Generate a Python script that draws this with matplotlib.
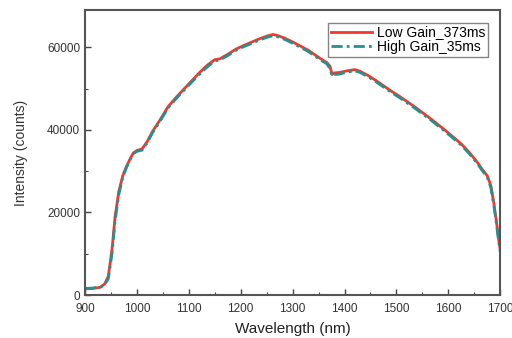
import matplotlib
matplotlib.use("Agg")
import matplotlib.pyplot as plt
from matplotlib.ticker import MultipleLocator

wavelength = [900, 915, 930, 938, 945, 952, 958, 965, 973, 980, 987, 993, 1000, 1010,
              1020, 1030, 1045, 1060, 1075, 1090, 1105, 1120, 1135, 1150, 1160, 1165,
              1175, 1190, 1205, 1220, 1235, 1250, 1262, 1270, 1285, 1300, 1315, 1330,
              1345, 1358, 1366, 1372, 1376, 1380, 1390, 1405, 1420, 1430, 1445, 1460,
              1475, 1490, 1505, 1520, 1535, 1550, 1565, 1580, 1595, 1610, 1625, 1640,
              1655, 1665, 1675, 1682, 1688, 1693, 1697, 1700]
low_gain = [1500, 1600, 1900, 2700, 4600, 11000, 19000, 25000, 29000, 31200, 33000, 34400,
            35000, 35400, 37200, 39600, 42500, 45600, 47800, 49800, 51800, 53800, 55600,
            57000, 57200, 57600, 58300, 59500, 60400, 61200, 62000, 62700, 63100, 62900,
            62200, 61300, 60300, 59300, 58000, 56900, 56300, 55400, 53400, 53800, 53900,
            54300, 54600, 54200, 53200, 52000, 50700, 49400, 48200, 46900, 45600, 44200,
            42800, 41300, 39800, 38200, 36600, 34600, 32300, 30500, 28900, 26500, 22000,
            17500, 13500, 11000]
high_gain = [1600, 1700, 2000, 2500, 4000, 10000, 18000, 24300, 28600, 30900, 32800, 34200,
             34800, 35100, 36900, 39300, 42200, 45300, 47500, 49500, 51500, 53400, 55200,
             56700, 56900, 57300, 58000, 59200, 60100, 60900, 61700, 62400, 62800, 62600,
             61900, 61000, 60000, 59000, 57700, 56600, 56000, 54800, 53000, 53400, 53500,
             54000, 54300, 53900, 52900, 51700, 50400, 49100, 47900, 46600, 45300, 43900,
             42500, 41000, 39500, 37900, 36300, 34300, 32000, 30200, 28600, 26000, 21500,
             17000, 13000, 10500]

plt.rcParams['font.family'] = ['Liberation Sans', 'DejaVu Sans']

fig = plt.figure(figsize=(5.12, 3.38), dpi=100)
ax = fig.add_axes([0.166, 0.127, 0.811, 0.843])

ax.plot(wavelength, low_gain, color='#f5372b', lw=2.0, label='Low Gain_373ms')
ax.plot(wavelength, high_gain, color='#25908e', lw=2.0, ls=(0, (4, 1.5, 1, 1.5)),
        label='High Gain_35ms')

ax.set_xlim(900, 1700)
ax.set_ylim(0, 69000)
ax.xaxis.set_major_locator(MultipleLocator(100))
ax.xaxis.set_minor_locator(MultipleLocator(50))
ax.yaxis.set_major_locator(MultipleLocator(20000))
ax.yaxis.set_minor_locator(MultipleLocator(10000))
ax.tick_params(which='both', direction='in', colors='#444444', labelcolor='#333333',
               labelsize=8.5)
ax.tick_params(axis='x', which='major', pad=6)
ax.tick_params(which='major', length=4, width=1.0)
ax.tick_params(which='minor', length=2.5, width=0.8)
for s in ax.spines.values():
    s.set_color('#555555')
    s.set_linewidth(1.5)

ax.set_xlabel('Wavelength (nm)', fontsize=11, color='#222222', labelpad=5)
ax.set_ylabel('Intensity (counts)', fontsize=10, color='#333333', labelpad=14)

leg = ax.legend(loc='upper right', fontsize=10, frameon=True, fancybox=False,
                edgecolor='#666666', handlelength=3.0, borderpad=0.2,
                labelspacing=0.05, handletextpad=0.3, borderaxespad=0.9)
leg.get_frame().set_linewidth(1.0)

fig.savefig('out.png', dpi=100)
